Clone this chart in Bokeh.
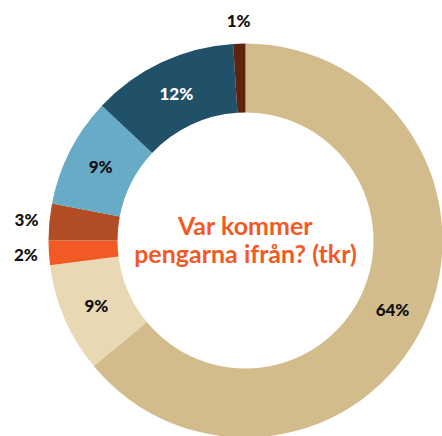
import math
from bokeh.plotting import figure
from bokeh.models import ColumnDataSource, Range1d
from bokeh.embed import file_html
from bokeh.resources import INLINE
from bokeh.core.properties import value

shares = [64, 9, 2, 3, 9, 12, 1]
labels = ["64%", "9%", "2%", "3%", "9%", "12%", "1%"]
colors = ["#d3bc8b", "#e8d8b3", "#f15a25", "#b24c24", "#67abc7", "#215168", "#5c230e"]
label_colors = ["#111111", "#111111", "#111111", "#111111", "#111111", "#ffffff", "#111111"]
outside = [False, False, True, True, False, False, True]
title_lines = ["Var kommer", "pengarna ifrån? (tkr)"]

W, H = 442, 436
cx, cy = 245, 196
r_out, r_in = 197, 128

total = sum(shares)
starts, ends, lx, ly = [], [], [], []
acc = 0.0
for s, out in zip(shares, outside):
    a0 = math.pi / 2 - 2 * math.pi * acc / total
    acc += s
    a1 = math.pi / 2 - 2 * math.pi * acc / total
    starts.append(a1)
    ends.append(a0)
    mid = (a0 + a1) / 2
    rr = 220 if out else (r_in + r_out) / 2
    lx.append(cx + rr * math.cos(mid))
    ly.append(cy + rr * math.sin(mid))

src = ColumnDataSource(dict(start=starts, end=ends, color=colors,
                            lx=lx, ly=ly, label=labels, lc=label_colors))

p = figure(width=W, height=H, output_backend="svg", toolbar_location=None,
           x_range=Range1d(0, W), y_range=Range1d(0, H), min_border=0)
p.axis.visible = False
p.grid.visible = False
p.outline_line_color = None

p.annular_wedge(x=cx, y=cy, inner_radius=r_in, outer_radius=r_out,
                start_angle="start", end_angle="end", color="color",
                line_color=None, source=src)

p.text(x="lx", y="ly", text="label", text_color="lc", source=src,
       text_font=value("'Lato Black', Lato"), text_font_style="bold",
       text_font_size="17px", text_align="center", text_baseline="middle")

p.text(x=[cx, cx], y=[cy + 16, cy - 12], text=title_lines,
       text_color="#f15a25", text_font=value("Lato"), text_font_style="bold",
       text_font_size="25px", text_align="center", text_baseline="middle")

open("out.html", "w").write(file_html(p, INLINE))
